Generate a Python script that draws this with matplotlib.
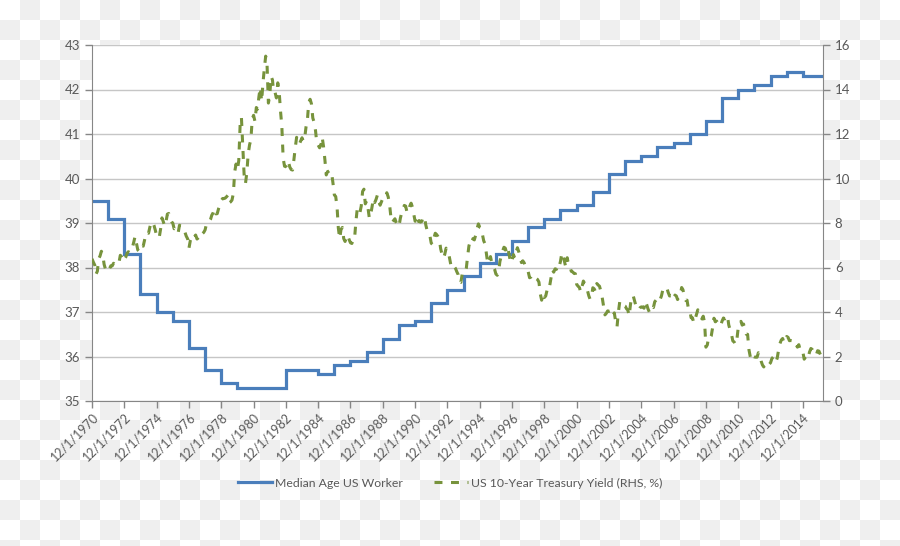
import numpy as np
import pandas as pd
import matplotlib
matplotlib.use("Agg")
import matplotlib.pyplot as plt
import matplotlib.dates as mdates
from matplotlib.lines import Line2D
from datetime import datetime

# median age of US worker, one value per year, starting 12/1/1970
age_years = list(range(1970, 2015))
median_age = [39.5, 39.1, 38.3, 37.4, 37.0, 36.8, 36.2, 35.7, 35.4, 35.3,
              35.3, 35.3, 35.7, 35.7, 35.6, 35.8, 35.9, 36.1, 36.4, 36.7,
              36.8, 37.2, 37.5, 37.8, 38.1, 38.3, 38.6, 38.9, 39.1, 39.3,
              39.4, 39.7, 40.1, 40.4, 40.5, 40.7, 40.8, 41.0, 41.3, 41.8,
              42.0, 42.1, 42.3, 42.4, 42.3]

# US 10-year treasury yield, monthly, Dec 1970 .. Feb 2016
yield_start = "1970-12-01"
treasury = [
    6.39,
    6.24, 6.11, 5.70, 5.83, 6.39, 6.52, 6.73, 6.58, 6.14, 5.93, 5.81, 5.93,
    5.95, 6.08, 6.07, 6.19, 6.13, 6.11, 6.11, 6.21, 6.55, 6.48, 6.28, 6.36,
    6.46, 6.64, 6.71, 6.67, 6.85, 6.90, 7.13, 7.40, 7.09, 6.79, 6.73, 6.74,
    6.99, 6.96, 7.21, 7.51, 7.58, 7.54, 7.81, 8.04, 8.04, 7.90, 7.68, 7.43,
    7.50, 7.39, 7.73, 8.23, 8.06, 7.86, 8.06, 8.40, 8.43, 8.14, 8.05, 8.00,
    7.74, 7.79, 7.73, 7.56, 7.90, 7.86, 7.83, 7.77, 7.59, 7.41, 7.29, 6.87,
    7.21, 7.39, 7.46, 7.37, 7.46, 7.28, 7.33, 7.40, 7.34, 7.52, 7.58, 7.69,
    7.96, 8.03, 8.04, 8.15, 8.35, 8.46, 8.64, 8.41, 8.42, 8.64, 8.81, 9.01,
    9.10, 9.10, 9.12, 9.18, 9.25, 8.91, 8.95, 9.03, 9.33, 10.30, 10.65, 10.39,
    10.80, 12.41, 12.75, 11.47, 10.18, 9.78, 10.25, 11.10, 11.51, 11.75, 12.68, 12.84,
    12.57, 13.19, 13.12, 13.68, 14.10, 13.47, 14.28, 14.94, 15.50, 15.15, 13.39, 13.72,
    14.59, 14.43, 13.86, 13.87, 13.62, 14.30, 13.95, 13.06, 12.34, 10.91, 10.55, 10.54,
    10.46, 10.72, 10.51, 10.40, 10.38, 10.85, 11.38, 11.85, 11.65, 11.54, 11.69, 11.83,
    11.67, 11.84, 12.32, 12.63, 13.41, 13.56, 13.36, 12.72, 12.52, 12.16, 11.57, 11.50,
    11.38, 11.51, 11.86, 11.43, 10.85, 10.16, 10.31, 10.33, 10.37, 10.24, 9.78, 9.26,
    9.19, 8.70, 7.78, 7.30, 7.71, 7.80, 7.30, 7.17, 7.45, 7.43, 7.25, 7.11,
    7.08, 7.25, 7.25, 8.02, 8.61, 8.40, 8.45, 8.76, 9.42, 9.52, 8.86, 8.99,
    8.67, 8.21, 8.37, 8.72, 9.09, 8.92, 9.06, 9.26, 8.98, 8.80, 8.96, 9.11,
    9.09, 9.17, 9.36, 9.18, 8.86, 8.28, 8.02, 8.11, 8.19, 8.01, 7.87, 7.84,
    8.21, 8.47, 8.59, 8.79, 8.76, 8.48, 8.47, 8.75, 8.89, 8.72, 8.39, 8.08,
    8.09, 7.85, 8.11, 8.04, 8.07, 8.28, 8.27, 7.90, 7.65, 7.53, 7.42, 7.09,
    7.03, 7.34, 7.54, 7.48, 7.39, 7.26, 6.84, 6.59, 6.42, 6.59, 6.87, 6.77,
    6.60, 6.26, 5.98, 5.97, 6.04, 5.96, 5.81, 5.68, 5.36, 5.33, 5.72, 5.77,
    5.75, 5.97, 6.48, 6.97, 7.18, 7.10, 7.30, 7.24, 7.46, 7.74, 7.96, 7.81,
    7.78, 7.47, 7.20, 7.06, 6.63, 6.17, 6.28, 6.49, 6.20, 6.04, 5.93, 5.71,
    5.65, 5.81, 6.27, 6.51, 6.74, 6.91, 6.87, 6.64, 6.83, 6.53, 6.20, 6.30,
    6.58, 6.42, 6.69, 6.89, 6.71, 6.49, 6.22, 6.30, 6.21, 6.03, 5.88, 5.81,
    5.54, 5.57, 5.65, 5.64, 5.65, 5.50, 5.46, 5.34, 4.81, 4.53, 4.83, 4.65,
    4.72, 5.00, 5.23, 5.18, 5.54, 5.90, 5.79, 5.94, 5.92, 6.11, 6.03, 6.28,
    6.66, 6.52, 6.26, 5.99, 6.44, 6.10, 6.05, 5.83, 5.80, 5.74, 5.72, 5.24,
    5.16, 5.10, 4.89, 5.14, 5.39, 5.28, 5.24, 4.97, 4.73, 4.57, 4.65, 5.09,
    5.04, 4.91, 5.28, 5.21, 5.16, 4.93, 4.65, 4.26, 3.87, 3.94, 4.05, 4.03,
    4.05, 3.90, 3.81, 3.96, 3.57, 3.33, 3.98, 4.45, 4.27, 4.29, 4.30, 4.27,
    4.15, 4.08, 3.83, 4.35, 4.72, 4.73, 4.50, 4.28, 4.13, 4.10, 4.19, 4.23,
    4.22, 4.17, 4.50, 4.34, 4.14, 4.00, 4.18, 4.26, 4.20, 4.46, 4.54, 4.47,
    4.42, 4.57, 4.72, 4.99, 5.11, 5.11, 5.09, 4.88, 4.72, 4.73, 4.60, 4.56,
    4.76, 4.72, 4.56, 4.69, 4.75, 5.10, 5.00, 4.67, 4.52, 4.53, 4.15, 4.10,
    3.74, 3.74, 3.51, 3.68, 3.88, 4.10, 4.01, 3.89, 3.69, 3.81, 3.53, 2.42,
    2.52, 2.87, 2.82, 2.93, 3.29, 3.72, 3.56, 3.59, 3.40, 3.39, 3.40, 3.59,
    3.73, 3.69, 3.73, 3.85, 3.42, 3.20, 3.01, 2.70, 2.65, 2.54, 2.76, 3.29,
    3.39, 3.58, 3.41, 3.46, 3.17, 3.00, 3.00, 2.30, 1.98, 2.15, 2.01, 1.98,
    1.97, 1.97, 2.17, 2.05, 1.80, 1.62, 1.53, 1.68, 1.72, 1.75, 1.65, 1.72,
    1.91, 1.98, 1.96, 1.76, 1.93, 2.30, 2.58, 2.74, 2.81, 2.62, 2.72, 2.90,
    2.86, 2.71, 2.72, 2.71, 2.56, 2.60, 2.54, 2.42, 2.53, 2.30, 2.33, 2.21,
    1.88, 1.98, 2.04, 1.94, 2.20, 2.36, 2.32, 2.17, 2.17, 2.07, 2.26, 2.24,
    2.09, 1.78,
]

age_label = "Median Age US Worker"
yield_label = "US 10-Year Treasury Yield (RHS, %)"

BLUE = "#4a7ebb"
GREEN = "#77933c"
TEXT = "#595959"
AXIS = "#868686"
GRID = "#c6c6c6"

plt.rcParams['font.family'] = ['Lato', 'DejaVu Sans']
plt.rcParams['font.size'] = 9

fig = plt.figure(figsize=(9, 5.46), dpi=100)

# checkered "transparent" background
bg = fig.add_axes([0, 0, 1, 1], zorder=-10)
ny, nx = 546 // 20 + 1, 900 // 20
checker = (np.add.outer(np.arange(ny), np.arange(nx)) % 2).astype(float)
bg.imshow(checker, cmap=matplotlib.colors.ListedColormap(["#ffffff", "#efefef"]),
          extent=[0, nx * 20, ny * 20, 0], interpolation="nearest", aspect="auto")
bg.set_xlim(0, 900)
bg.set_ylim(546, 0)
bg.axis("off")

ax = fig.add_axes([92 / 900, 1 - 401 / 546, 731 / 900, 356 / 546])
ax.set_facecolor("white")
ax2 = ax.twinx()

age_dates = [datetime(y, 12, 1) for y in age_years]
x_end = datetime(2016, 3, 1)
ax.plot(age_dates + [x_end], median_age + [median_age[-1]], drawstyle="steps-post",
        color=BLUE, lw=2.3, solid_joinstyle="miter")

yield_dates = pd.date_range(yield_start, periods=len(treasury), freq="MS")
ax2.plot(yield_dates, treasury, color=GREEN, lw=2.2, dashes=(2.6, 2.8))

ax.set_xlim(datetime(1970, 12, 1), x_end)
ax.set_ylim(35, 43)
ax2.set_ylim(0, 16)
ax.set_yticks(range(35, 44))
ax2.set_yticks(range(0, 17, 2))

ax.set_xticks([datetime(y, 12, 1) for y in range(1970, 2015, 2)])
ax.xaxis.set_major_formatter(
    plt.FuncFormatter(lambda v, p: "{d.month}/{d.day}/{d.year}".format(d=mdates.num2date(v))))
for lbl in ax.get_xticklabels():
    lbl.set_rotation(45)
    lbl.set_ha("right")
    lbl.set_rotation_mode("anchor")

ax.grid(axis="y", color=GRID, lw=1)
ax.set_axisbelow(True)
for a in (ax, ax2):
    a.spines["top"].set_visible(False)
    for s in ("left", "right", "bottom"):
        a.spines[s].set_color(AXIS)
    a.tick_params(colors=AXIS, labelcolor=TEXT, length=5, width=1, labelsize=9.5)
ax.spines["right"].set_visible(False)
ax2.spines["left"].set_visible(False)
ax2.spines["bottom"].set_visible(False)
ax.tick_params(axis="x", pad=2, labelsize=9)

handles = [Line2D([], [], color=BLUE, lw=2.3),
           Line2D([], [], color=GREEN, lw=2.2, dashes=(2.6, 2.8))]
fig.legend(handles, [age_label, yield_label], loc="center", bbox_to_anchor=(0.5, 0.115),
           ncol=2, frameon=False, handlelength=2.8, columnspacing=2.5, handletextpad=0.25,
           labelcolor=TEXT, fontsize=8.8)

fig.savefig("out.png", dpi=100)
